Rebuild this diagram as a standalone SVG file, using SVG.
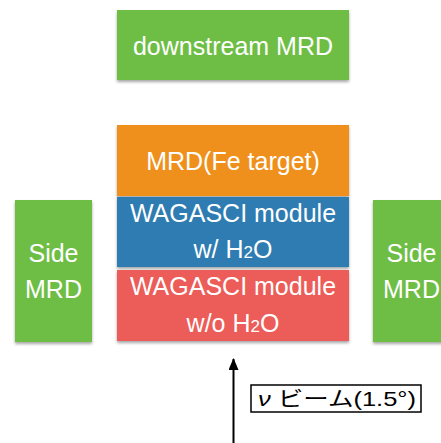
<svg xmlns="http://www.w3.org/2000/svg" width="441" height="443" viewBox="0 0 441 443">
<defs>
<filter id="sh" x="-10%" y="-10%" width="120%" height="130%">
<feDropShadow dx="0" dy="2" stdDeviation="1.5" flood-color="#000" flood-opacity="0.35"/>
</filter>
<marker id="ah" markerWidth="12" markerHeight="10" refX="11" refY="5" orient="auto" markerUnits="userSpaceOnUse" viewBox="0 0 12 10">
<path d="M0,0 L12,5 L0,10 Z" fill="#000"/>
</marker>
</defs>
<style>
.t{font-family:"Liberation Sans",Arial,sans-serif;fill:#fff;font-size:25px;text-anchor:middle}
.g{fill:#6EBE44}
</style>
<rect width="441" height="443" fill="#fff"/>
<g id="downstream">
<rect x="117" y="10" width="232" height="70" class="g" filter="url(#sh)"/>
<text class="t" x="233" y="55">downstream MRD</text>
</g>
<g id="mrd-fe">
<rect x="117" y="125" width="232" height="71" fill="#F0901E" filter="url(#sh)"/>
<text class="t" x="233" y="170">MRD(Fe target)</text>
</g>
<g id="wagasci-h2o">
<rect x="117" y="197" width="232" height="70" fill="#2E7CB1" filter="url(#sh)"/>
<text class="t" x="233" y="222">WAGASCI module</text>
<text class="t" x="233" y="258">w/ H<tspan font-size="17">2</tspan>O</text>
</g>
<g id="wagasci-noh2o">
<rect x="117" y="270" width="232" height="71" fill="#EC5C58" filter="url(#sh)"/>
<text class="t" x="233" y="295">WAGASCI module</text>
<text class="t" x="233" y="332">w/o H<tspan font-size="17">2</tspan>O</text>
</g>
<g id="side-left">
<rect x="15" y="200" width="77" height="142" class="g" filter="url(#sh)"/>
<text class="t" x="53.5" y="262">Side</text>
<text class="t" x="53.5" y="298">MRD</text>
</g>
<g id="side-right">
<rect x="373" y="200" width="77" height="142" class="g" filter="url(#sh)"/>
<text class="t" x="411.5" y="262">Side</text>
<text class="t" x="411.5" y="298">MRD</text>
</g>
<g id="connectors">
<line x1="233.5" y1="443" x2="233.5" y2="359" stroke="#000" stroke-width="2" marker-end="url(#ah)"/>
</g>
<g id="beam-label">
<rect x="251" y="385" width="170" height="27" fill="#fff" stroke="#000" stroke-width="1.5"/>
<text x="258" y="406" font-family="'Liberation Sans','Noto Sans CJK JP',sans-serif" font-size="21" fill="#000" textLength="158" lengthAdjust="spacingAndGlyphs"><tspan font-style="italic">ν</tspan> ビーム(1.5°)</text>
</g>
</svg>
